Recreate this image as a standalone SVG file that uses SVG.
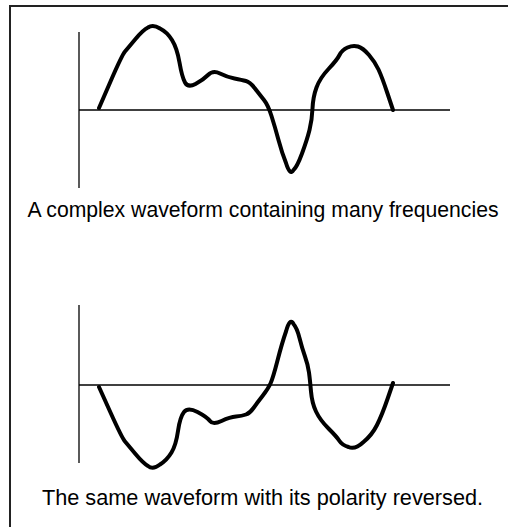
<svg xmlns="http://www.w3.org/2000/svg" width="508" height="527" viewBox="0 0 508 527">
<style>
.frame{fill:none;stroke:#222;stroke-width:2}
.axis{fill:none;stroke:#000;stroke-width:1.3}
.wave{fill:none;stroke:#000;stroke-width:4;stroke-linecap:round;stroke-linejoin:round}
.cap{font-family:"Liberation Sans",Arial,sans-serif;font-size:21.4px;fill:#000;text-anchor:middle}
</style>
<rect width="508" height="527" fill="#fff"/>
<rect class="frame" x="10" y="6" width="600" height="600"/>
<g id="top-graph">
<line class="axis" x1="79" y1="32" x2="79" y2="188"/>
<line class="axis" x1="79" y1="110" x2="450" y2="110"/>
<path class="wave" d="M99,108 L110.5,81.5 Q122,55 125,51.5 Q128,48 135.5,39 Q143,30 148,27.5 Q153,24 160,28.5 Q167,32 172,40 Q177,48 179.5,62.5 Q182,77 185,82.5 Q188,88 195.5,84 Q203,80 208,75 Q213,70 220,73.5 Q227,77 234.5,78.5 Q242,80 246,81 Q250,82 255,88.5 Q260,95 264,100 Q268,105 271.5,116 Q275,127 278.5,140 Q282,153 286,163 Q290,176 293.5,170 Q297,167 302,153.5 Q307,140 309.5,130 Q312,120 312.5,108.5 Q313,97 316.5,87.5 Q320,78 328.5,69 Q337,60 339.5,55 Q342,50 347.5,47.5 Q353,45 358,46.5 Q363,48 369,55 Q375,62 378.5,69.5 Q382,77 387.5,93.5 L393,110"/>
<text class="cap" x="263" y="217" style="font-size:21.2px">A complex waveform containing many frequencies</text>
</g>
<g id="bottom-graph">
<line class="axis" x1="79" y1="305" x2="79" y2="463"/>
<line class="axis" x1="79" y1="385" x2="450" y2="385"/>
<path class="wave" d="M99,387 L110.5,412.5 Q122,438 125,441.5 Q128,445 135.5,454 Q143,463 148,466 Q153,470 160,464.5 Q167,460 171.5,452.5 Q176,445 178,431 Q180,417 184,412 Q188,407 197.5,412 Q207,417 210,421 Q213,425 221.5,421 Q230,417 236,416.5 Q242,416 246,414.5 Q250,413 253.5,408 Q257,403 262.5,396 Q268,389 270.5,383.5 Q273,378 277.5,360.5 Q282,343 286,331.5 Q290,317 293.5,324 Q297,328 299.5,338 Q302,348 305,356.5 Q308,365 309,372.5 Q310,380 311,391.5 Q312,403 316,411.5 Q320,420 328.5,428.5 Q337,437 339.5,441 Q342,445 348.5,447 Q355,450 363.5,442 Q372,435 377,425 Q382,415 387.5,399 L393,383"/>
<text class="cap" x="262.5" y="505" style="font-size:21.7px">The same waveform with its polarity reversed.</text>
</g>
</svg>
